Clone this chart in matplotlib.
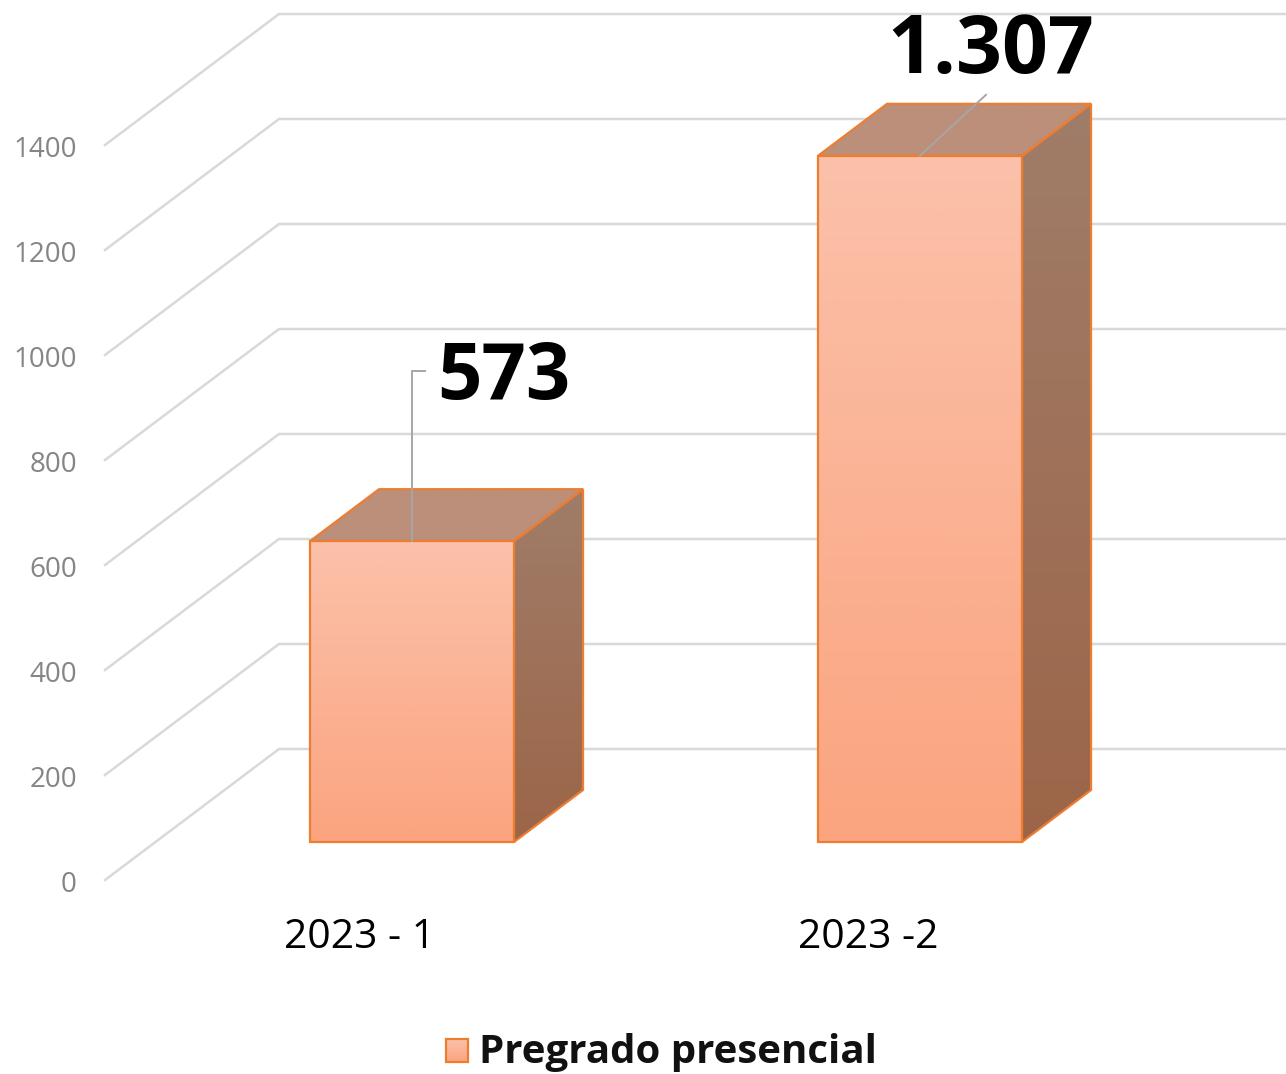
import numpy as np
import matplotlib
matplotlib.use("Agg")
import matplotlib.pyplot as plt
from matplotlib.patches import Polygon, Rectangle

categories = ["2023 - 1", "2023 -2"]
values = [573, 1307]
value_labels = ["573", "1.307"]
y_ticks = [0, 200, 400, 600, 800, 1000, 1200, 1400]
series_name = "Pregrado presencial"

W, H = 1286, 1074
fig = plt.figure(figsize=(W / 100, H / 100), dpi=100)
ax = fig.add_axes([0, 0, 1, 1])
ax.set_xlim(0, W)
ax.set_ylim(H, 0)
ax.axis("off")
FONT = "Open Sans"

# Projection of the pseudo-3D chart box: depth 0 = back wall, 1 = front edge
Y0, SCALE = 749.0, 0.525
BACK_X, DX, DY = 279.0, 174.0, 131.0


def proj(x, v, d=0.0):
    return (x - DX * d, Y0 - SCALE * v + DY * d)


GRID = "#D9D9D9"
for v in y_ticks:
    a, b = proj(BACK_X, v, 1.0), proj(BACK_X, v, 0.0)
    ax.plot([a[0], b[0], W], [a[1], b[1], b[1]], color=GRID, lw=1.8,
            solid_joinstyle="miter", zorder=1)
    ax.text(77, a[1] + 5, str(v), ha="right", va="center", family=FONT,
            fontsize=20, color="#858585")

EDGE = "#ED7D31"
FRONT_D, BACK_D = 0.71, 0.313
BAR_W = 204.0
centers_back = [535.5, 1043.5]  # back-wall x of the bar centre line


def gradient_face(pts, top, bottom, z):
    xs, ys = zip(*pts)
    top, bottom = np.array(matplotlib.colors.to_rgb(top)), np.array(matplotlib.colors.to_rgb(bottom))
    t = np.linspace(0, 1, 256)[:, None, None]
    img = top[None, None, :] * (1 - t) + bottom[None, None, :] * t
    im = ax.imshow(img, extent=[min(xs), max(xs), max(ys), min(ys)], aspect="auto",
                   zorder=z, interpolation="bilinear")
    poly = Polygon(pts, closed=True, transform=ax.transData, fc="none", ec="none")
    ax.add_patch(poly)
    im.set_clip_path(poly)
    ax.add_patch(Polygon(pts, closed=True, fc="none", ec=EDGE, lw=1.6, zorder=z + 0.1,
                         joinstyle="miter"))


for cx, v in zip(centers_back, values):
    l, r = cx - BAR_W / 2, cx + BAR_W / 2
    fbl, fbr = proj(l, 0, FRONT_D), proj(r, 0, FRONT_D)
    ftl, ftr = proj(l, v, FRONT_D), proj(r, v, FRONT_D)
    bbr = proj(r, 0, BACK_D)
    btl, btr = proj(l, v, BACK_D), proj(r, v, BACK_D)
    gradient_face([ftr, btr, bbr, fbr], "#A07D69", "#9C6548", 3)
    gradient_face([ftl, btl, btr, ftr], "#BC8F7A", "#BC8F7A", 3)
    gradient_face([ftl, ftr, fbr, fbl], "#FBC1AA", "#FBA47F", 4)

# Data labels and leader lines
LEADER = "#A6A6A6"
top1 = proj(centers_back[0], values[0], FRONT_D)
ax.plot([top1[0], top1[0], top1[0] + 13], [top1[1], 371, 371], color=LEADER, lw=1.4, zorder=6,
        solid_joinstyle="miter")
top2 = proj(centers_back[1], values[1], FRONT_D)
ax.plot([top2[0], top2[0] + 66], [top2[1], top2[1] - 61], color=LEADER, lw=1.4, zorder=6)
ax.text(504, 378, value_labels[0], ha="center", va="center", family=FONT, weight="bold",
        fontsize=56, color="black", zorder=7)
ax.text(991, 52, value_labels[1], ha="center", va="center", family=FONT, weight="bold",
        fontsize=58, color="black", zorder=7)

# Category labels
for x, c in zip([359, 868], categories):
    ax.text(x, 938, c, ha="center", va="center", family=FONT, fontsize=29.3, color="black")

# Legend
sw = [(446, 1039), (468, 1039), (468, 1062), (446, 1062)]
gradient_face(sw, "#FBC1AA", "#FBA47F", 5)
ax.text(479, 1053, series_name, ha="left", va="center", family=FONT, weight="bold",
        fontsize=29, color="#111111")

ax.set_xlim(0, W)
ax.set_ylim(H, 0)
fig.savefig("out.png", dpi=100, facecolor="white")
